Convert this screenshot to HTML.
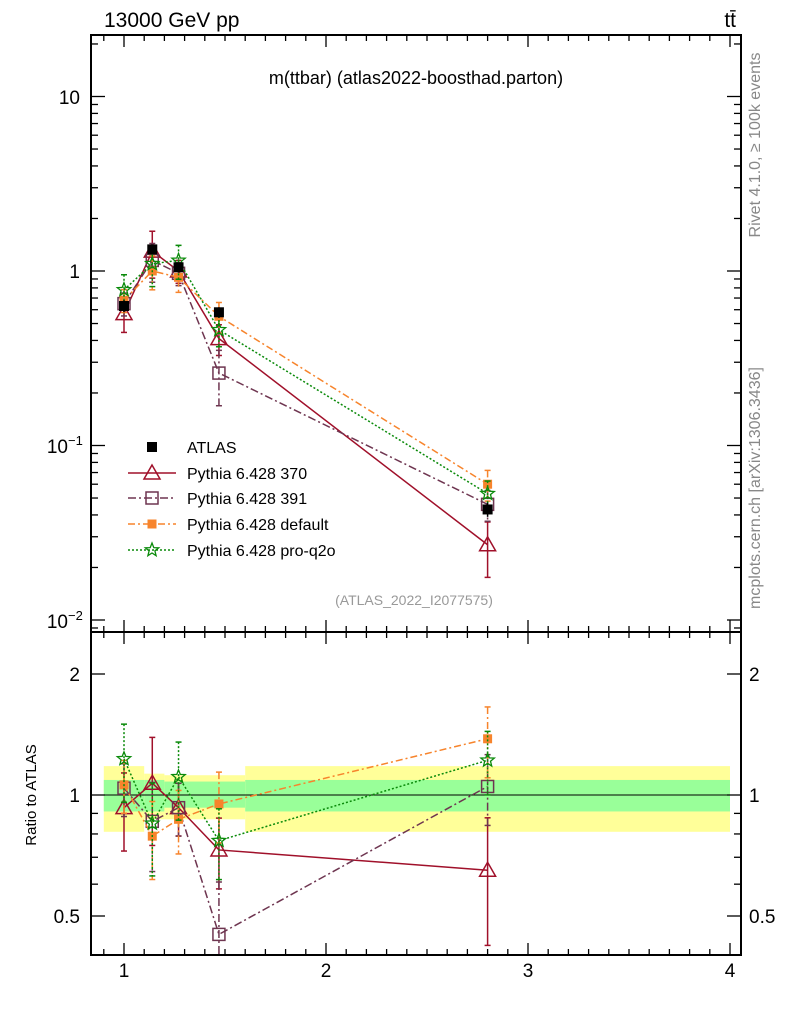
<!DOCTYPE html>
<html><head><meta charset="utf-8"><style>
html,body{margin:0;padding:0;background:#fff}
svg{display:block;font-family:"Liberation Sans",sans-serif}
</style></head><body>
<svg id="c" width="786" height="1024" xmlns="http://www.w3.org/2000/svg">
<defs><clipPath id="clipMain"><rect x="91" y="35" width="650" height="597"/></clipPath>
<clipPath id="clipRatio"><rect x="91" y="632" width="650" height="323"/></clipPath></defs>
</svg>
<script>
const xs=[1.0,1.14,1.27,1.47,2.8];
const binEdges=[0.9,1.1,1.2,1.6,4.0];
const atlas=[0.63,1.33,1.05,0.58,0.043];
const atlasErr=[0.05,0.08,0.07,0.04,0.004];
const yellowLo=[0.81,0.87,0.87,0.81];
const yellowHi=[1.18,1.13,1.12,1.18];
const greenLo=[0.91,0.91,0.93,0.91];
const greenHi=[1.09,1.09,1.08,1.09];
const p370=[0.57,1.3,1.0,0.41,0.027];
const p391=[0.65,1.15,0.97,0.26,0.046];
const pDef=[0.68,1.0,0.92,0.55,0.06];
const pPro=[0.78,1.1,1.15,0.46,0.053];
const r370=[0.93,1.07,0.93,0.73,0.65];
const r391=[1.04,0.86,0.93,0.45,1.05];
const rDef=[1.06,0.79,0.87,0.95,1.38];
const rPro=[1.23,0.85,1.11,0.77,1.22];
const e370=[0.22,0.3,0.15,0.2,0.35];
const e391=[0.15,0.25,0.15,0.35,0.2];
const eDef=[0.15,0.22,0.18,0.2,0.2];
const ePro=[0.22,0.26,0.22,0.2,0.18];
const legendLabels=["ATLAS","Pythia 6.428 370","Pythia 6.428 391","Pythia 6.428 default","Pythia 6.428 pro-q2o"];

const svg=document.getElementById('c');
const NS="http://www.w3.org/2000/svg";
function el(t,a,p){const e=document.createElementNS(NS,t);for(const k in a)e.setAttribute(k,a[k]);(p||svg).appendChild(e);return e;}
const L=91,R=741,T=35,M=632,B=955;
const X=v=>124+(v-1)*202;
const Y=v=>271-Math.log10(v)*174.5;
const YR=v=>795-Math.log2(v)*121;

for(let i=0;i<4;i++){
 const x0=X(binEdges[i]),x1=X(binEdges[i+1]);
 const y=el('rect',{x:x0,y:YR(yellowHi[i]),width:x1-x0,height:YR(yellowLo[i])-YR(yellowHi[i]),fill:'#ffff99'});
 
 
 const g=el('rect',{x:x0,y:YR(greenHi[i]),width:x1-x0,height:YR(greenLo[i])-YR(greenHi[i]),fill:'#99ff99'});
 
 
}
el('line',{x1:L,x2:R,y1:YR(1),y2:YR(1),stroke:'#000','stroke-width':1});

el('rect',{x:L,y:T,width:R-L,height:M-T,fill:'none',stroke:'#000','stroke-width':2});
el('rect',{x:L,y:M,width:R-L,height:B-M,fill:'none',stroke:'#000','stroke-width':2});

function tk(x1,y1,x2,y2){el('line',{x1,y1,x2,y2,stroke:'#000','stroke-width':1.3});}
for(let v=0.9;v<=4.001;v+=0.1){
 const x=X(v);const maj=Math.abs(v-Math.round(v))<0.01;const l=maj?12:6;
 [T,M].forEach(t=>tk(x,t,x,t+l));
 [M,B].forEach(b=>tk(x,b,x,b-l));
}
[1,2,3,4].forEach(v=>{const t=el('text',{x:X(v),y:977,'text-anchor':'middle','font-size':19});t.textContent=v;
 });
for(let d=-3;d<=1;d++){for(let m=1;m<10;m++){const v=m*Math.pow(10,d);const y=Y(v);if(y<T||y>M)continue;const l=m==1?14:7;tk(L,y,L+l,y);tk(R,y,R-l,y);}}
[[97,'10',''],[271,'1',''],[446,'10','−1'],[621,'10','−2']].forEach(a=>{
 const t=el('text',{x:a[2]?68:80,y:a[0]+7,'text-anchor':'end','font-size':19});t.textContent=a[1];
 
 if(a[2]){const s=el('text',{x:68,y:a[0]-1,'font-size':13});s.textContent=a[2];}
});
[0.5,0.6,0.7,0.8,0.9,1,2].forEach(v=>{const y=YR(v);const l=(v==0.5||v==1||v==2)?14:7;tk(L,y,L+l,y);tk(R,y,R-l,y);});
[[2,'2'],[1,'1'],[0.5,'0.5']].forEach(a=>{
 const t=el('text',{x:80,y:YR(a[0])+7,'text-anchor':'end','font-size':19});t.textContent=a[1];
 
 const t2=el('text',{x:749,y:YR(a[0])+7,'font-size':19});t2.textContent=a[1];
 
});

function marker(kind,x,y,col,g){
 if(kind=='sq')el('rect',{x:x-5,y:y-5,width:10,height:10,fill:'#000'},g);
 else if(kind=='osq')el('rect',{x:x-6,y:y-6,width:12,height:12,fill:'none',stroke:col,'stroke-width':1.5},g);
 else if(kind=='fsq')el('rect',{x:x-4.5,y:y-4.5,width:9,height:9,fill:col},g);
 else if(kind=='tri')el('polygon',{points:`${x},${y-8} ${x-8},${y+6} ${x+8},${y+6}`,fill:'none',stroke:col,'stroke-width':1.5},g);
 else if(kind=='star'){let p=[];for(let i=0;i<10;i++){const r=i%2?3:7,a=-Math.PI/2+i*Math.PI/5;p.push((x+r*Math.cos(a)).toFixed(1)+','+(y+r*Math.sin(a)).toFixed(1));}
  el('polygon',{points:p.join(' '),fill:'none',stroke:col,'stroke-width':1.3},g);}
}
const series=[
 {name:'pythia-370',vals:p370,rat:r370,err:e370,col:'#a0102a',dash:'',m:'tri'},
 {name:'pythia-391',vals:p391,rat:r391,err:e391,col:'#6e3550',dash:'8,3,2,3',m:'osq'},
 {name:'pythia-default',vals:pDef,rat:rDef,err:eDef,col:'#f7842c',dash:'7,3,2,3',m:'fsq'},
 {name:'pythia-pro-q2o',vals:pPro,rat:rPro,err:ePro,col:'#0a8a0a',dash:'2,2',m:'star'}
];
series.forEach(s=>{
 [[s.vals,Y],[s.rat,YR]].forEach(([arr,fy],k)=>{
  const g=el('g',{'clip-path':k?'url(#clipRatio)':'url(#clipMain)'});
  
  
  el('polyline',{points:xs.map((x,i)=>X(x)+','+fy(arr[i])).join(' '),fill:'none',stroke:s.col,'stroke-width':1.5,'stroke-dasharray':s.dash},g);
  xs.forEach((x,i)=>{const v=arr[i],e=s.err[i];
   el('line',{x1:X(x),x2:X(x),y1:fy(v*(1+e)),y2:fy(v*(1-e)),stroke:s.col,'stroke-width':1.5,'stroke-dasharray':s.dash},g);
   el('line',{x1:X(x)-3,x2:X(x)+3,y1:fy(v*(1+e)),y2:fy(v*(1+e)),stroke:s.col,'stroke-width':1.5},g);
   el('line',{x1:X(x)-3,x2:X(x)+3,y1:fy(v*(1-e)),y2:fy(v*(1-e)),stroke:s.col,'stroke-width':1.5},g);
   marker(s.m,X(x),fy(v),s.col,g);});
 });
});
const ga=el('g',{});


xs.forEach((x,i)=>{el('line',{x1:X(x),x2:X(x),y1:Y(atlas[i]+atlasErr[i]),y2:Y(atlas[i]-atlasErr[i]),stroke:'#000','stroke-width':1.5},ga);marker('sq',X(x),Y(atlas[i]),'#000',ga);});

const lg=el('g',{});


const legY=[447,473,498,524,550];
legendLabels.forEach((lab,i)=>{
 const y=legY[i];
 if(i==0)marker('sq',152,y,'#000',lg);
 else{const s=series[i-1];el('line',{x1:128,x2:176,y1:y,y2:y,stroke:s.col,'stroke-width':1.5,'stroke-dasharray':s.dash},lg);marker(s.m,152,y,s.col,lg);}
 const t=el('text',{x:187,y:y+6,'font-size':16},lg);t.textContent=lab;
 
});

function txt(s,a,name){const t=el('text',a);t.textContent=s;return t;}
txt('13000 GeV pp',{x:104,y:27,'font-size':21},'energy-label');
txt('tt̄',{x:736,y:27,'font-size':21,'text-anchor':'end'},'process-label');
txt('m(ttbar) (atlas2022-boosthad.parton)',{x:416,y:84,'font-size':18,'text-anchor':'middle'},'plot-title');
txt('(ATLAS_2022_I2077575)',{x:414,y:605,'font-size':14,'text-anchor':'middle',fill:'#999'},'analysis-id');
txt('Rivet 4.1.0, ≥ 100k events',{x:0,y:0,'font-size':16,fill:'#888','text-anchor':'middle',transform:'translate(760,145) rotate(-90)'},'rivet-label');
txt('mcplots.cern.ch [arXiv:1306.3436]',{x:0,y:0,'font-size':16,fill:'#888','text-anchor':'middle',transform:'translate(760,488) rotate(-90)'},'mcplots-label');
txt('Ratio to ATLAS',{x:0,y:0,'font-size':15,'text-anchor':'middle',transform:'translate(36,795) rotate(-90)'},'ratio-y-axis-title');
</script>
</body></html>
